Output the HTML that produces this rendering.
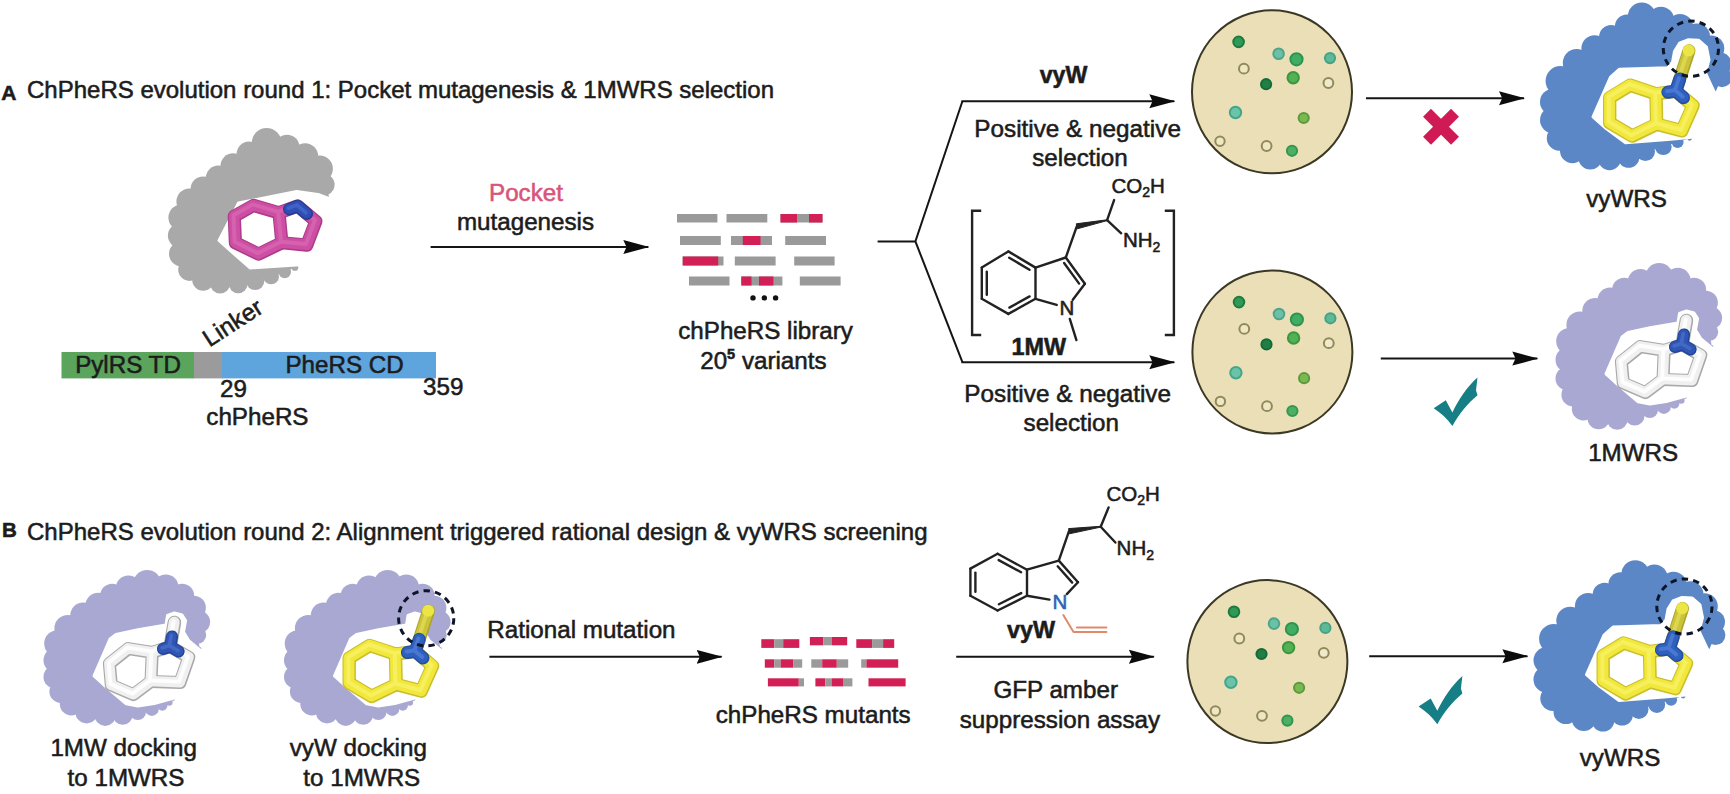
<!DOCTYPE html>
<html><head><meta charset="utf-8"><title>ChPheRS evolution</title>
<style>
html,body{margin:0;padding:0;background:#fff}
svg{display:block}
text{font-family:"Liberation Sans",sans-serif;font-size:24.2px;fill:#1c1c1c;stroke:#1c1c1c;stroke-width:0.55px}
.b{font-weight:bold}
.m{text-anchor:middle}
.c{font-size:20.5px}
</style></head><body>
<svg width="1730" height="794" viewBox="0 0 1730 794">
<defs>
<marker id="ah" markerUnits="userSpaceOnUse" markerWidth="28" markerHeight="16" refX="25" refY="8" orient="auto"><path d="M0,1 L26,8 L0,15 L3.2,8 Z" fill="#0c0c0c"/></marker>
<g id="dish"><ellipse cx="1272" cy="91.8" rx="80" ry="81.5" fill="#ebdfb8" stroke="#3b3824" stroke-width="2"/><circle cx="1238.6" cy="41.9" r="5.3" fill="#2f9a55" stroke="#1f7a3f" stroke-width="2"/><circle cx="1278.6" cy="53.8" r="5.3" fill="#6cc0a6" stroke="#4fa58b" stroke-width="2"/><circle cx="1296.5" cy="59.3" r="6.1" fill="#3fae62" stroke="#2f9350" stroke-width="2"/><circle cx="1330" cy="58.1" r="5.1" fill="#5cba99" stroke="#46a283" stroke-width="2"/><circle cx="1243.9" cy="68.7" r="4.9" fill="#efe6c4" stroke="#8f8a58" stroke-width="2"/><circle cx="1293.2" cy="77.8" r="5.7" fill="#52b152" stroke="#3c9640" stroke-width="2"/><circle cx="1266.1" cy="84.2" r="5.1" fill="#1f7f45" stroke="#176a38" stroke-width="2"/><circle cx="1328.4" cy="83" r="4.9" fill="#f1e9cc" stroke="#8f8a58" stroke-width="2"/><circle cx="1235.5" cy="112.5" r="5.7" fill="#6bc3a8" stroke="#45a58b" stroke-width="2"/><circle cx="1303.7" cy="118" r="5.1" fill="#7ab851" stroke="#5c9a3c" stroke-width="2"/><circle cx="1220" cy="141.2" r="4.7" fill="#efe6c4" stroke="#8f8a58" stroke-width="2"/><circle cx="1266.6" cy="146" r="4.9" fill="#efe6c4" stroke="#8f8a58" stroke-width="2"/><circle cx="1292" cy="150.8" r="5.1" fill="#4cb064" stroke="#35964f" stroke-width="2"/></g>
<circle id="dash" r="27.6" fill="none" stroke="#0d1628" stroke-width="3" stroke-dasharray="6.4 5.16"/>
<g id="yellowmol"><polyline points="1669.3,648.9 1682.5,608.5" fill="none" stroke="#aaa42a" stroke-width="13" stroke-linecap="round" stroke-linejoin="round"/><polyline points="1669.1,648.6 1682.3,608.2" fill="none" stroke="#cbc438" stroke-width="10.4" stroke-linecap="round" stroke-linejoin="round"/><polyline points="1668.5,647.9 1681.7,607.5" fill="none" stroke="#ddd650" stroke-width="3.9" stroke-linecap="round" stroke-linejoin="round"/><circle cx="1682.2" cy="608.2" r="6" fill="#ebe545"/><polyline points="1603.2,655.5 1623.7,643 1649.5,651.6 1650.2,682 1625.7,693.9 1603.2,680.6 1603.2,655.5" fill="none" stroke="#c9bf2d" stroke-width="13.4" stroke-linecap="round" stroke-linejoin="round"/><polyline points="1649.5,651.6 1669.3,648.9 1686.5,663.5 1675.3,688.6 1650.2,682" fill="none" stroke="#c9bf2d" stroke-width="13.4" stroke-linecap="round" stroke-linejoin="round"/><polyline points="1603,655.2 1623.5,642.7 1649.3,651.3 1650,681.7 1625.5,693.6 1603,680.3 1603,655.2" fill="none" stroke="#f2e83c" stroke-width="10.7" stroke-linecap="round" stroke-linejoin="round"/><polyline points="1649.3,651.3 1669.1,648.6 1686.3,663.2 1675.1,688.3 1650,681.7" fill="none" stroke="#f2e83c" stroke-width="10.7" stroke-linecap="round" stroke-linejoin="round"/><polyline points="1602.4,654.5 1622.9,642 1648.7,650.6 1649.4,681 1624.9,692.9 1602.4,679.6 1602.4,654.5" fill="none" stroke="#f6ef5e" stroke-width="4" stroke-linecap="round" stroke-linejoin="round"/><polyline points="1648.7,650.6 1668.5,647.9 1685.7,662.5 1674.5,687.6 1649.4,681" fill="none" stroke="#f6ef5e" stroke-width="4" stroke-linecap="round" stroke-linejoin="round"/><polyline points="1661.4,650 1669.3,648.9 1677,655.5" fill="none" stroke="#244f9f" stroke-width="13" stroke-linecap="round" stroke-linejoin="round"/><polyline points="1669.3,648.9 1673.3,636.8" fill="none" stroke="#244f9f" stroke-width="13" stroke-linecap="round" stroke-linejoin="round"/><polyline points="1661.2,649.7 1669.1,648.6 1676.8,655.2" fill="none" stroke="#2f60c0" stroke-width="10.4" stroke-linecap="round" stroke-linejoin="round"/><polyline points="1669.1,648.6 1673.1,636.5" fill="none" stroke="#2f60c0" stroke-width="10.4" stroke-linecap="round" stroke-linejoin="round"/><polyline points="1660.6,649 1668.5,647.9 1676.2,654.5" fill="none" stroke="#4a78d0" stroke-width="3.9" stroke-linecap="round" stroke-linejoin="round"/><polyline points="1668.5,647.9 1672.5,635.8" fill="none" stroke="#4a78d0" stroke-width="3.9" stroke-linecap="round" stroke-linejoin="round"/></g>
<g id="blue"><g fill="#5c87c6"><polygon points="1708.9,650.2 1715.4,635.1 1713,622 1704.6,606.4 1690.3,594.5 1673.5,584.9 1654.4,577.7 1635.3,574.1 1620.4,584.2 1604.6,594.7 1588.1,606.2 1570.2,620.6 1553.9,638.7 1546.7,660.3 1546.7,679.4 1552.7,698.5 1565.9,711.7 1583.8,718.9 1603,720.1 1622.1,714.8 1638.9,709.3 1656.8,704.5 1671.1,699.7 1683.1,696.1"/><circle cx="1708.9" cy="650.2" r="1.4"/><circle cx="1715.4" cy="635.1" r="10"/><circle cx="1713" cy="622" r="12"/><circle cx="1704.6" cy="606.4" r="13.2"/><circle cx="1690.3" cy="594.5" r="13.2"/><circle cx="1673.5" cy="584.9" r="13.2"/><circle cx="1654.4" cy="577.7" r="13.2"/><circle cx="1635.3" cy="574.1" r="13.9"/><circle cx="1620.4" cy="584.2" r="12"/><circle cx="1604.6" cy="594.7" r="12"/><circle cx="1588.1" cy="606.2" r="13.2"/><circle cx="1570.2" cy="620.6" r="13.9"/><circle cx="1553.9" cy="638.7" r="14.8"/><circle cx="1546.7" cy="660.3" r="13.2"/><circle cx="1546.7" cy="679.4" r="13.2"/><circle cx="1552.7" cy="698.5" r="12.4"/><circle cx="1565.9" cy="711.7" r="12.4"/><circle cx="1583.8" cy="718.9" r="12"/><circle cx="1603" cy="720.1" r="11.5"/><circle cx="1622.1" cy="714.8" r="10.8"/><circle cx="1638.9" cy="709.3" r="9.6"/><circle cx="1656.8" cy="704.5" r="8.4"/><circle cx="1671.1" cy="699.7" r="6"/><circle cx="1683.1" cy="696.1" r="2.4"/></g><polygon points="1707.8,650 1704.5,643 1699,631 1702.5,617.5 1700,605 1692,598 1682,597.5 1673,601 1668,609 1666,620 1661,625.5 1613,627 1604,635 1586.5,674.6 1600,686.6 1619,700.5 1644.8,698.5 1664,697 1683.1,695.2 1729,690 1729,656" fill="#fff" stroke="#fff" stroke-width="3" stroke-linejoin="round"/><use href="#yellowmol"/><use href="#dash" x="1684.4" y="606.5"/></g>
<g id="lavshape"><g fill="#a9a8d2"><polygon points="1711.8,346.3 1709.3,331.9 1710.9,317.9 1705.8,302.8 1694.1,289.9 1677.8,280.6 1659.2,277.1 1640.5,281.8 1624.2,289.9 1610.2,300.4 1595.1,310.9 1579.9,324.9 1569.5,341.2 1568.3,359.8 1567.1,378.5 1573,394.8 1583.4,408.8 1598.6,418.1 1617.2,419.3 1634.7,415.8 1649.8,409.9 1663.8,406.9 1674.3,403.6 1681.3,400.4 1685.3,397.6"/><circle cx="1711.8" cy="346.3" r="1.4"/><circle cx="1709.3" cy="331.9" r="8.9"/><circle cx="1710.9" cy="317.9" r="11.2"/><circle cx="1705.8" cy="302.8" r="12.1"/><circle cx="1694.1" cy="289.9" r="12.1"/><circle cx="1677.8" cy="280.6" r="12.8"/><circle cx="1659.2" cy="277.1" r="14"/><circle cx="1640.5" cy="281.8" r="12.8"/><circle cx="1624.2" cy="289.9" r="12.1"/><circle cx="1610.2" cy="300.4" r="12.8"/><circle cx="1595.1" cy="310.9" r="12.8"/><circle cx="1579.9" cy="324.9" r="13.5"/><circle cx="1569.5" cy="341.2" r="13.3"/><circle cx="1568.3" cy="359.8" r="12.8"/><circle cx="1567.1" cy="378.5" r="11.6"/><circle cx="1573" cy="394.8" r="11.6"/><circle cx="1583.4" cy="408.8" r="11.6"/><circle cx="1598.6" cy="418.1" r="11.2"/><circle cx="1617.2" cy="419.3" r="10.5"/><circle cx="1634.7" cy="415.8" r="9.8"/><circle cx="1649.8" cy="409.9" r="8.2"/><circle cx="1663.8" cy="406.9" r="7"/><circle cx="1674.3" cy="403.6" r="5.1"/><circle cx="1681.3" cy="400.4" r="3.3"/><circle cx="1685.3" cy="397.6" r="1.4"/></g><polygon points="1711.8,348 1701,339 1695.5,330 1697.6,318.5 1694,313 1686.5,311 1679.5,313.5 1678,323 1650,327.8 1628,332.5 1622,337 1606,373.8 1614.9,382 1638.2,401.8 1649.8,404 1666.2,401.5 1686,396 1729,390 1729,355" fill="#fff" stroke="#fff" stroke-width="3" stroke-linejoin="round"/></g>
<g id="whitemol"><polyline points="1682.2,344.6 1686.4,320.5" fill="none" stroke="#a9a9a9" stroke-width="13.6" stroke-linecap="round" stroke-linejoin="round"/><polyline points="1682,344.3 1686.2,320.2" fill="none" stroke="#f0f0f0" stroke-width="10.9" stroke-linecap="round" stroke-linejoin="round"/><polyline points="1681.4,343.6 1685.6,319.5" fill="none" stroke="#fdfdfd" stroke-width="4.1" stroke-linecap="round" stroke-linejoin="round"/><polyline points="1621.4,361.7 1640.3,346.6 1664.2,350.4 1663,379.4 1645.4,392.6 1623.3,383.1 1621.4,361.7" fill="none" stroke="#a9a9a9" stroke-width="13" stroke-linecap="round" stroke-linejoin="round"/><polyline points="1664.2,350.4 1682.2,344.6 1700.8,355.4 1692,380.6 1663,379.4" fill="none" stroke="#a9a9a9" stroke-width="13" stroke-linecap="round" stroke-linejoin="round"/><polyline points="1621.2,361.4 1640.1,346.3 1664,350.1 1662.8,379.1 1645.2,392.3 1623.1,382.8 1621.2,361.4" fill="none" stroke="#f0f0f0" stroke-width="10.4" stroke-linecap="round" stroke-linejoin="round"/><polyline points="1664,350.1 1682,344.3 1700.6,355.1 1691.8,380.3 1662.8,379.1" fill="none" stroke="#f0f0f0" stroke-width="10.4" stroke-linecap="round" stroke-linejoin="round"/><polyline points="1620.6,360.7 1639.5,345.6 1663.4,349.4 1662.2,378.4 1644.6,391.6 1622.5,382.1 1620.6,360.7" fill="none" stroke="#fdfdfd" stroke-width="3.9" stroke-linecap="round" stroke-linejoin="round"/><polyline points="1663.4,349.4 1681.4,343.6 1700,354.4 1691.2,379.6 1662.2,378.4" fill="none" stroke="#fdfdfd" stroke-width="3.9" stroke-linecap="round" stroke-linejoin="round"/><polyline points="1675,346.9 1682.2,344.6 1690.6,349.5" fill="none" stroke="#23439a" stroke-width="12.2" stroke-linecap="round" stroke-linejoin="round"/><polyline points="1682.2,344.6 1684,334.5" fill="none" stroke="#23439a" stroke-width="12.2" stroke-linecap="round" stroke-linejoin="round"/><polyline points="1674.8,346.6 1682,344.3 1690.4,349.2" fill="none" stroke="#2f55b5" stroke-width="9.8" stroke-linecap="round" stroke-linejoin="round"/><polyline points="1682,344.3 1683.8,334.2" fill="none" stroke="#2f55b5" stroke-width="9.8" stroke-linecap="round" stroke-linejoin="round"/><polyline points="1674.2,345.9 1681.4,343.6 1689.8,348.5" fill="none" stroke="#4469c4" stroke-width="3.7" stroke-linecap="round" stroke-linejoin="round"/><polyline points="1681.4,343.6 1683.2,333.5" fill="none" stroke="#4469c4" stroke-width="3.7" stroke-linecap="round" stroke-linejoin="round"/></g>
<g id="lavshape2"><g fill="#a9a8d2"><polygon points="1711.8,346.3 1709.3,332.9 1710.9,319.9 1705.8,305.8 1694.1,293.9 1677.8,285.2 1659.2,281.9 1640.5,286.3 1624.2,293.9 1610.2,303.6 1595.1,313.4 1579.9,326.4 1569.5,341.5 1568.3,358.3 1567.1,374.9 1573,389.4 1583.4,401.9 1598.6,410.2 1617.2,413.4 1634.7,413 1649.8,409.9 1663.8,406.9 1674.3,403.6 1681.3,400.4 1685.3,397.6"/><circle cx="1711.8" cy="346.3" r="1.4"/><circle cx="1709.3" cy="332.9" r="8.9"/><circle cx="1710.9" cy="319.9" r="11.2"/><circle cx="1705.8" cy="305.8" r="12.1"/><circle cx="1694.1" cy="293.9" r="12.1"/><circle cx="1677.8" cy="285.2" r="12.8"/><circle cx="1659.2" cy="281.9" r="14"/><circle cx="1640.5" cy="286.3" r="12.8"/><circle cx="1624.2" cy="293.9" r="12.1"/><circle cx="1610.2" cy="303.6" r="12.8"/><circle cx="1595.1" cy="313.4" r="12.8"/><circle cx="1579.9" cy="326.4" r="13.5"/><circle cx="1569.5" cy="341.5" r="13.3"/><circle cx="1568.3" cy="358.3" r="12.8"/><circle cx="1567.1" cy="374.9" r="11.6"/><circle cx="1573" cy="389.4" r="11.6"/><circle cx="1583.4" cy="401.9" r="11.6"/><circle cx="1598.6" cy="410.2" r="11.2"/><circle cx="1617.2" cy="413.4" r="10.5"/><circle cx="1634.7" cy="413" r="9.8"/><circle cx="1649.8" cy="409.9" r="8.2"/><circle cx="1663.8" cy="406.9" r="7"/><circle cx="1674.3" cy="403.6" r="5.1"/><circle cx="1681.3" cy="400.4" r="3.3"/><circle cx="1685.3" cy="397.6" r="1.4"/></g><polygon points="1711.8,348 1701,339 1695.5,330 1697.6,318.5 1694,313 1686.5,311 1679.5,313.5 1678,323 1650,327.8 1628,332.5 1622,337 1606,373.8 1614.9,382 1638.2,401.8 1649.8,404 1666.2,401.5 1686,396 1729,390 1729,355" fill="#fff" stroke="#fff" stroke-width="3" stroke-linejoin="round"/></g>
</defs>
<rect width="1730" height="794" fill="#fff"/>
<text x="1.2" y="99.8" class="b" style="font-size:21px">A</text>
<text x="27" y="97.7" style="font-size:24px">ChPheRS evolution round 1: Pocket mutagenesis &amp; 1MWRS selection</text>
<text x="2" y="537" class="b" style="font-size:20.5px">B</text>
<text x="27" y="539.8" style="font-size:24px">ChPheRS evolution round 2: Alignment triggered rational design &amp; vyWRS screening</text>
<text x="526" y="201" class="m" style="fill:#d8557a;stroke:#d8557a">Pocket</text>
<text x="525.5" y="230" class="m" >mutagenesis</text>
<line x1="430.6" y1="247" x2="648.3" y2="247" stroke="#151515" stroke-width="2" marker-end="url(#ah)"/>
<rect x="61.5" y="352" width="133" height="26.4" fill="#5aa45c"/>
<rect x="194" y="352" width="28.5" height="26.4" fill="#9b9b9b"/>
<rect x="222" y="352" width="214" height="26.4" fill="#5ea5de"/>
<text x="128" y="373.4" class="m" >PylRS TD</text>
<text x="344.6" y="373.4" class="m" >PheRS CD</text>
<text x="220" y="396.5" >29</text>
<text x="423" y="395" >359</text>
<text x="257.4" y="425" class="m" >chPheRS</text>
<text transform="translate(209.5,347.5) rotate(-33)">Linker</text>
<rect x="677" y="214" width="40.4" height="8.5" fill="#9a9a9a"/>
<rect x="726.5" y="214" width="40.8" height="8.5" fill="#9a9a9a"/>
<rect x="780.5" y="214" width="42" height="8.5" fill="#9a9a9a"/>
<rect x="780.5" y="214" width="16.5" height="8.5" fill="#d21f55"/>
<rect x="809" y="214" width="13.5" height="8.5" fill="#d21f55"/>
<rect x="680" y="236" width="40.8" height="9" fill="#9a9a9a"/>
<rect x="731" y="236" width="41" height="9" fill="#9a9a9a"/>
<rect x="742.8" y="236" width="17.7" height="9" fill="#d21f55"/>
<rect x="785.2" y="236" width="40.8" height="9" fill="#9a9a9a"/>
<rect x="682.7" y="256.5" width="40.8" height="9" fill="#9a9a9a"/>
<rect x="682.7" y="256.5" width="35.5" height="9" fill="#d21f55"/>
<rect x="734.8" y="256.5" width="40.8" height="9" fill="#9a9a9a"/>
<rect x="794.2" y="256.5" width="40.4" height="9" fill="#9a9a9a"/>
<rect x="689" y="276.5" width="40.5" height="9" fill="#9a9a9a"/>
<rect x="741.3" y="276.5" width="41.1" height="9" fill="#9a9a9a"/>
<rect x="741.3" y="276.5" width="10.2" height="9" fill="#d21f55"/>
<rect x="759" y="276.5" width="14.4" height="9" fill="#d21f55"/>
<rect x="799.8" y="276.5" width="40.8" height="9" fill="#9a9a9a"/>
<circle cx="753" cy="297.9" r="2.7" fill="#111"/>
<circle cx="764.3" cy="297.9" r="2.7" fill="#111"/>
<circle cx="775.6" cy="297.9" r="2.7" fill="#111"/>
<text x="765.6" y="339.3" class="m" >chPheRS library</text>
<text x="763.4" y="368.6" class="m" >20<tspan dy="-10" style="font-size:14.5px;font-weight:bold">5</tspan><tspan dy="10"> variants</tspan></text>
<path d="M877.6,241.4 H915.4 M962.4,101.2 L915.4,241.4 L962.4,362.2" fill="none" stroke="#151515" stroke-width="2" stroke-linejoin="miter"/>
<line x1="961.4" y1="101.2" x2="1174.3" y2="101.2" stroke="#151515" stroke-width="2" marker-end="url(#ah)"/>
<line x1="961.4" y1="362.2" x2="1174.3" y2="362.2" stroke="#151515" stroke-width="2" marker-end="url(#ah)"/>
<text x="1063.5" y="83.4" class="b m" style="font-size:23.2px">vyW</text>
<text x="1077.6" y="137.2" class="m" style="font-size:24.3px">Positive &amp; negative</text>
<text x="1080" y="165.8" class="m" >selection</text>
<text x="1067.7" y="402" class="m" style="font-size:24.3px">Positive &amp; negative</text>
<text x="1071.3" y="430.5" class="m" >selection</text>
<text x="1011.5" y="354.9" class="b" style="font-size:23.4px">1MW</text>
<line x1="1366" y1="98.2" x2="1524" y2="98.2" stroke="#151515" stroke-width="2" marker-end="url(#ah)"/>
<line x1="1380.8" y1="358.6" x2="1537.3" y2="358.6" stroke="#151515" stroke-width="2" marker-end="url(#ah)"/>
<line x1="1369.2" y1="656.2" x2="1527.4" y2="656.2" stroke="#151515" stroke-width="2" marker-end="url(#ah)"/>
<text x="1626.5" y="206.8" class="m" >vyWRS</text>
<text x="1633.2" y="461.3" class="m" >1MWRS</text>
<text x="1620" y="765.9" class="m" >vyWRS</text>
<g transform="translate(1441,126.8) rotate(45)" fill="#cf1a55"><rect x="-19.8" y="-5.6" width="39.6" height="11.2"/><rect x="-5.6" y="-19.8" width="11.2" height="39.6"/></g>
<path transform="translate(1433.7,408.3)" d="M0,0 L12.1,-8 L18.7,4.1 C25,-9 33.5,-21.5 43.8,-30.7 L42.3,-18.1 L43.8,-13.1 C34,-5 25,6 18.7,17.7 C13.5,10.5 7,4.5 0,0 Z" fill="#167f85"/>
<path transform="translate(1418.6,706.6)" d="M0,0 L12.1,-8 L18.7,4.1 C25,-9 33.5,-21.5 43.8,-30.7 L42.3,-18.1 L43.8,-13.1 C34,-5 25,6 18.7,17.7 C13.5,10.5 7,4.5 0,0 Z" fill="#167f85"/>
<text x="487.3" y="637.5" >Rational mutation</text>
<line x1="489.4" y1="656.8" x2="721.6" y2="656.8" stroke="#151515" stroke-width="2" marker-end="url(#ah)"/>
<text x="813.2" y="722.8" class="m" >chPheRS mutants</text>
<line x1="956.2" y1="656.8" x2="1153.9" y2="656.8" stroke="#151515" stroke-width="2" marker-end="url(#ah)"/>
<text x="1055.7" y="698.1" class="m" >GFP amber</text>
<text x="1059.9" y="728.2" class="m" >suppression assay</text>
<text x="1006.9" y="638.3" class="b" style="font-size:23.4px">vyW</text>
<text x="123.7" y="756.2" class="m" >1MW docking</text>
<text x="126" y="785.5" class="m" >to 1MWRS</text>
<text x="358.3" y="756.2" class="m" >vyW docking</text>
<text x="361.8" y="785.5" class="m" >to 1MWRS</text>
<use href="#dish"/>
<use href="#dish" transform="translate(0.4,260.2)"/>
<use href="#dish" transform="translate(-4.6,569.8)"/>
<rect x="761.3" y="639.2" width="13" height="8.7" fill="#d21f55"/>
<rect x="774.3" y="639.2" width="8.9" height="8.7" fill="#9a9a9a"/>
<rect x="783.2" y="639.2" width="16.1" height="8.7" fill="#d21f55"/>
<rect x="809.9" y="637" width="13.3" height="8.3" fill="#d21f55"/>
<rect x="823.2" y="637" width="8.4" height="8.3" fill="#9a9a9a"/>
<rect x="831.6" y="637" width="15.6" height="8.3" fill="#d21f55"/>
<rect x="856.3" y="639.2" width="15.8" height="8.7" fill="#d21f55"/>
<rect x="872.1" y="639.2" width="11" height="8.7" fill="#9a9a9a"/>
<rect x="883.1" y="639.2" width="11.1" height="8.7" fill="#d21f55"/>
<rect x="764.8" y="659.3" width="9.5" height="8.4" fill="#d21f55"/>
<rect x="774.3" y="659.3" width="6.3" height="8.4" fill="#9a9a9a"/>
<rect x="780.6" y="659.3" width="12.5" height="8.4" fill="#d21f55"/>
<rect x="793.1" y="659.3" width="9.1" height="8.4" fill="#9a9a9a"/>
<rect x="811.3" y="659.3" width="10.9" height="8.4" fill="#9a9a9a"/>
<rect x="822.2" y="659.3" width="14.6" height="8.4" fill="#d21f55"/>
<rect x="836.8" y="659.3" width="11.4" height="8.4" fill="#9a9a9a"/>
<rect x="861.2" y="659.3" width="5.2" height="8.4" fill="#9a9a9a"/>
<rect x="866.4" y="659.3" width="31.8" height="8.4" fill="#d21f55"/>
<rect x="767.9" y="678.3" width="30.9" height="8.1" fill="#d21f55"/>
<rect x="798.8" y="678.3" width="5.2" height="8.1" fill="#9a9a9a"/>
<rect x="815.4" y="678.3" width="9.9" height="8.1" fill="#d21f55"/>
<rect x="825.3" y="678.3" width="6.3" height="8.1" fill="#9a9a9a"/>
<rect x="831.6" y="678.3" width="11.4" height="8.1" fill="#d21f55"/>
<rect x="843" y="678.3" width="9.4" height="8.1" fill="#9a9a9a"/>
<rect x="868.5" y="678.3" width="37.1" height="8.1" fill="#d21f55"/>
<line x1="981.8" y1="267.6" x2="1008.3" y2="251.4" stroke="#222" stroke-width="2.4" stroke-linecap="round"/><line x1="1008.3" y1="251.4" x2="1035.5" y2="267.6" stroke="#222" stroke-width="2.4" stroke-linecap="round"/><line x1="1035.5" y1="267.6" x2="1035.5" y2="298.8" stroke="#222" stroke-width="2.4" stroke-linecap="round"/><line x1="1035.5" y1="298.8" x2="1008.3" y2="313.9" stroke="#222" stroke-width="2.4" stroke-linecap="round"/><line x1="1008.3" y1="313.9" x2="981.8" y2="298.8" stroke="#222" stroke-width="2.4" stroke-linecap="round"/><line x1="981.8" y1="298.8" x2="981.8" y2="267.6" stroke="#222" stroke-width="2.4" stroke-linecap="round"/><line x1="986.8" y1="294.8" x2="986.8" y2="271.6" stroke="#222" stroke-width="2.4" stroke-linecap="round"/><line x1="1009.2" y1="257.7" x2="1029.5" y2="269.8" stroke="#222" stroke-width="2.4" stroke-linecap="round"/><line x1="1029.6" y1="296.4" x2="1009.4" y2="307.6" stroke="#222" stroke-width="2.4" stroke-linecap="round"/><line x1="1035.5" y1="267.6" x2="1065.8" y2="257.5" stroke="#222" stroke-width="2.4" stroke-linecap="round"/><line x1="1065.8" y1="257.5" x2="1084.9" y2="283.7" stroke="#222" stroke-width="2.4" stroke-linecap="round"/><line x1="1064.1" y1="263" x2="1079.1" y2="283.6" stroke="#222" stroke-width="2.4" stroke-linecap="round"/><line x1="1084.9" y1="283.7" x2="1072.8" y2="299.8" stroke="#222" stroke-width="2.4" stroke-linecap="round"/><line x1="1035.5" y1="298.8" x2="1056.7" y2="304.9" stroke="#222" stroke-width="2.4" stroke-linecap="round"/><line x1="1065.8" y1="257.5" x2="1076.8" y2="226.3" stroke="#222" stroke-width="2.4" stroke-linecap="round"/><polygon points="1077.3,228.8 1076.3,223.8 1107,219.8 1107.2,220.6" fill="#222" stroke="#222" stroke-width="1" stroke-linejoin="round"/><line x1="1107.1" y1="220.2" x2="1114.1" y2="200.1" stroke="#222" stroke-width="2.4" stroke-linecap="round"/><line x1="1107.1" y1="220.2" x2="1121.2" y2="233.3" stroke="#222" stroke-width="2.4" stroke-linecap="round"/><text x="1059.4" y="315.2" class="c" style="fill:#222;stroke:#222">N</text><text x="1111.5" y="192.7" class="c">CO<tspan dy="4.5" style="font-size:14px">2</tspan><tspan dy="-4.5">H</tspan></text><text x="1122.9" y="247.1" class="c">NH<tspan dy="4.5" style="font-size:14px">2</tspan></text>
<line x1="1069.8" y1="318.9" x2="1076.4" y2="340.1" stroke="#222" stroke-width="2.4" stroke-linecap="round"/>
<path d="M981.2,210.8 H972.1 V335 H981.2 M1164.8,210.8 H1173.9 V335 H1164.8" fill="none" stroke="#222" stroke-width="2.4"/>
<line x1="970.4" y1="568.6" x2="997.6" y2="553.8" stroke="#222" stroke-width="2.4" stroke-linecap="round"/><line x1="997.6" y1="553.8" x2="1027" y2="569.7" stroke="#222" stroke-width="2.4" stroke-linecap="round"/><line x1="1027" y1="569.7" x2="1027" y2="595.8" stroke="#222" stroke-width="2.4" stroke-linecap="round"/><line x1="1027" y1="595.8" x2="997.6" y2="610.5" stroke="#222" stroke-width="2.4" stroke-linecap="round"/><line x1="997.6" y1="610.5" x2="970.4" y2="595.8" stroke="#222" stroke-width="2.4" stroke-linecap="round"/><line x1="970.4" y1="595.8" x2="970.4" y2="568.6" stroke="#222" stroke-width="2.4" stroke-linecap="round"/><line x1="975.4" y1="591.8" x2="975.4" y2="572.6" stroke="#222" stroke-width="2.4" stroke-linecap="round"/><line x1="998.7" y1="560.1" x2="1021.1" y2="572.2" stroke="#222" stroke-width="2.4" stroke-linecap="round"/><line x1="1021.2" y1="593.1" x2="998.9" y2="604.2" stroke="#222" stroke-width="2.4" stroke-linecap="round"/><line x1="1027" y1="569.7" x2="1058.8" y2="560.6" stroke="#222" stroke-width="2.4" stroke-linecap="round"/><line x1="1058.8" y1="560.6" x2="1078" y2="582.2" stroke="#222" stroke-width="2.4" stroke-linecap="round"/><line x1="1057.7" y1="566.3" x2="1072.2" y2="582.6" stroke="#222" stroke-width="2.4" stroke-linecap="round"/><line x1="1078" y1="582.2" x2="1066.8" y2="594.1" stroke="#222" stroke-width="2.4" stroke-linecap="round"/><line x1="1027" y1="595.8" x2="1049.5" y2="599.6" stroke="#222" stroke-width="2.4" stroke-linecap="round"/><line x1="1058.8" y1="560.6" x2="1069" y2="531.2" stroke="#222" stroke-width="2.4" stroke-linecap="round"/><polygon points="1069.4,533.8 1068.6,528.6 1100.6,526.3 1100.8,527.1" fill="#222" stroke="#222" stroke-width="1" stroke-linejoin="round"/><line x1="1100.7" y1="526.7" x2="1108.6" y2="507.4" stroke="#222" stroke-width="2.4" stroke-linecap="round"/><line x1="1100.7" y1="526.7" x2="1115.4" y2="542.5" stroke="#222" stroke-width="2.4" stroke-linecap="round"/><text x="1052.5" y="608.8" class="c" style="fill:#2c62b5;stroke:#2c62b5">N</text><text x="1106.4" y="500.6" class="c">CO<tspan dy="4.5" style="font-size:14px">2</tspan><tspan dy="-4.5">H</tspan></text><text x="1116.6" y="555" class="c">NH<tspan dy="4.5" style="font-size:14px">2</tspan></text>
<path d="M1063.3,615 L1073.5,632 H1106.4 M1076.9,627.5 H1106.4" fill="none" stroke="#e08a6a" stroke-width="2" stroke-linejoin="round" stroke-linecap="round"/>
<g fill="#a9a9a9"><polygon points="326.6,195.9 323.7,184.6 319.8,168.7 305.1,156.3 287,147.2 266.6,142.7 249.1,154 233,165.8 218.3,178 203.1,188.9 189.5,201.6 181.5,217.5 180.4,235.6 181.5,253.8 189.5,269.6 203.1,279.8 220.1,283.2 238.2,283.7 255.2,281 271.1,276.4 284.7,271.9 294.9,267.4"/><circle cx="326.6" cy="195.9" r="2.3"/><circle cx="323.7" cy="184.6" r="10.9"/><circle cx="319.8" cy="168.7" r="13.1"/><circle cx="305.1" cy="156.3" r="13.1"/><circle cx="287" cy="147.2" r="12.5"/><circle cx="266.6" cy="142.7" r="14.7"/><circle cx="249.1" cy="154" r="12.5"/><circle cx="233" cy="165.8" r="12.5"/><circle cx="218.3" cy="178" r="12.5"/><circle cx="203.1" cy="188.9" r="12.5"/><circle cx="189.5" cy="201.6" r="13.1"/><circle cx="181.5" cy="217.5" r="13.1"/><circle cx="180.4" cy="235.6" r="12.5"/><circle cx="181.5" cy="253.8" r="12.5"/><circle cx="189.5" cy="269.6" r="11.3"/><circle cx="203.1" cy="279.8" r="10.9"/><circle cx="220.1" cy="283.2" r="10.2"/><circle cx="238.2" cy="283.7" r="9.5"/><circle cx="255.2" cy="281" r="9.1"/><circle cx="271.1" cy="276.4" r="7.9"/><circle cx="284.7" cy="271.9" r="6.3"/><circle cx="294.9" cy="267.4" r="3.4"/></g><polygon points="219,240.5 238.5,203 296.6,191.5 318,194.5 330,199 345,215 345,262 296,265 250,268" fill="#fff" stroke="#fff" stroke-width="3" stroke-linejoin="round"/>
<polyline points="234.3,216.2 253.5,205.4 279,212.8 281.9,242.8 258.6,254.1 235.4,242.8 234.3,216.2" fill="none" stroke="#ad3b89" stroke-width="13.2" stroke-linecap="round" stroke-linejoin="round"/><polyline points="279,212.8 297.7,206 315.8,221.3 306.8,245.1 281.9,242.8" fill="none" stroke="#ad3b89" stroke-width="13.2" stroke-linecap="round" stroke-linejoin="round"/><polyline points="234.1,215.9 253.3,205.1 278.8,212.5 281.7,242.5 258.4,253.8 235.2,242.5 234.1,215.9" fill="none" stroke="#cd4fa4" stroke-width="10.6" stroke-linecap="round" stroke-linejoin="round"/><polyline points="278.8,212.5 297.5,205.7 315.6,221 306.6,244.8 281.7,242.5" fill="none" stroke="#cd4fa4" stroke-width="10.6" stroke-linecap="round" stroke-linejoin="round"/><polyline points="233.5,215.2 252.7,204.4 278.2,211.8 281.1,241.8 257.8,253.1 234.6,241.8 233.5,215.2" fill="none" stroke="#d661af" stroke-width="4" stroke-linecap="round" stroke-linejoin="round"/><polyline points="278.2,211.8 296.9,205 315,220.3 306,244.1 281.1,241.8" fill="none" stroke="#d661af" stroke-width="4" stroke-linecap="round" stroke-linejoin="round"/>
<polyline points="289.3,209.1 297.7,206 306.8,213.7" fill="none" stroke="#243c93" stroke-width="12.6" stroke-linecap="round" stroke-linejoin="round"/><polyline points="289.1,208.8 297.5,205.7 306.6,213.3" fill="none" stroke="#2f4db3" stroke-width="10.1" stroke-linecap="round" stroke-linejoin="round"/><polyline points="288.5,208.1 296.9,205 305.9,212.7" fill="none" stroke="#3f62c8" stroke-width="3.8" stroke-linecap="round" stroke-linejoin="round"/>
<use href="#blue"/>
<g transform="translate(6.5,-557.8)"><g fill="#5c87c6"><polygon points="1708.9,650.1 1715.4,635.1 1713,622 1704.6,606.4 1690.3,594.5 1673.5,584.9 1654.4,577.7 1635.3,574.1 1620.4,584.2 1604.6,594.7 1588.1,606.2 1570.2,620.6 1553.9,638.7 1546.7,659.7 1546.7,677.9 1552.7,696.1 1565.9,708.6 1583.8,715.4 1603,716.5 1622.1,714.8 1638.9,709.3 1656.8,704.5 1671.1,699.7 1683.1,696.1"/><circle cx="1708.9" cy="650.1" r="1.4"/><circle cx="1715.4" cy="635.1" r="10"/><circle cx="1713" cy="622" r="12"/><circle cx="1704.6" cy="606.4" r="13.2"/><circle cx="1690.3" cy="594.5" r="13.2"/><circle cx="1673.5" cy="584.9" r="13.2"/><circle cx="1654.4" cy="577.7" r="13.2"/><circle cx="1635.3" cy="574.1" r="13.9"/><circle cx="1620.4" cy="584.2" r="12"/><circle cx="1604.6" cy="594.7" r="12"/><circle cx="1588.1" cy="606.2" r="13.2"/><circle cx="1570.2" cy="620.6" r="13.9"/><circle cx="1553.9" cy="638.7" r="14.8"/><circle cx="1546.7" cy="659.7" r="13.2"/><circle cx="1546.7" cy="677.9" r="13.2"/><circle cx="1552.7" cy="696.1" r="12.4"/><circle cx="1565.9" cy="708.6" r="12.4"/><circle cx="1583.8" cy="715.4" r="12"/><circle cx="1603" cy="716.5" r="11.5"/><circle cx="1622.1" cy="714.8" r="10.8"/><circle cx="1638.9" cy="709.3" r="9.6"/><circle cx="1656.8" cy="704.5" r="8.4"/><circle cx="1671.1" cy="699.7" r="6"/><circle cx="1683.1" cy="696.1" r="2.4"/></g><polygon points="1707.8,650 1704.5,643 1699,631 1702.5,617.5 1700,605 1692,598 1682,597.5 1673,601 1668,609 1666,620 1661,625.5 1613,627 1604,635 1586.5,674.6 1600,686.6 1619,700.5 1644.8,698.5 1664,697 1683.1,695.2 1729,690 1729,656" fill="#fff" stroke="#fff" stroke-width="3" stroke-linejoin="round"/><use href="#yellowmol"/><use href="#dash" x="1684.4" y="606.5"/></g>
<use href="#lavshape"/><use href="#whitemol"/>
<g transform="translate(-1512,302)"><use href="#lavshape2"/><use href="#whitemol"/></g>
<use href="#lavshape2" transform="translate(-1271.5,302)"/>
<use href="#yellowmol" transform="translate(-1254,2.5)"/><use href="#dash" x="426.2" y="618.3"/>
</svg>
</body></html>
